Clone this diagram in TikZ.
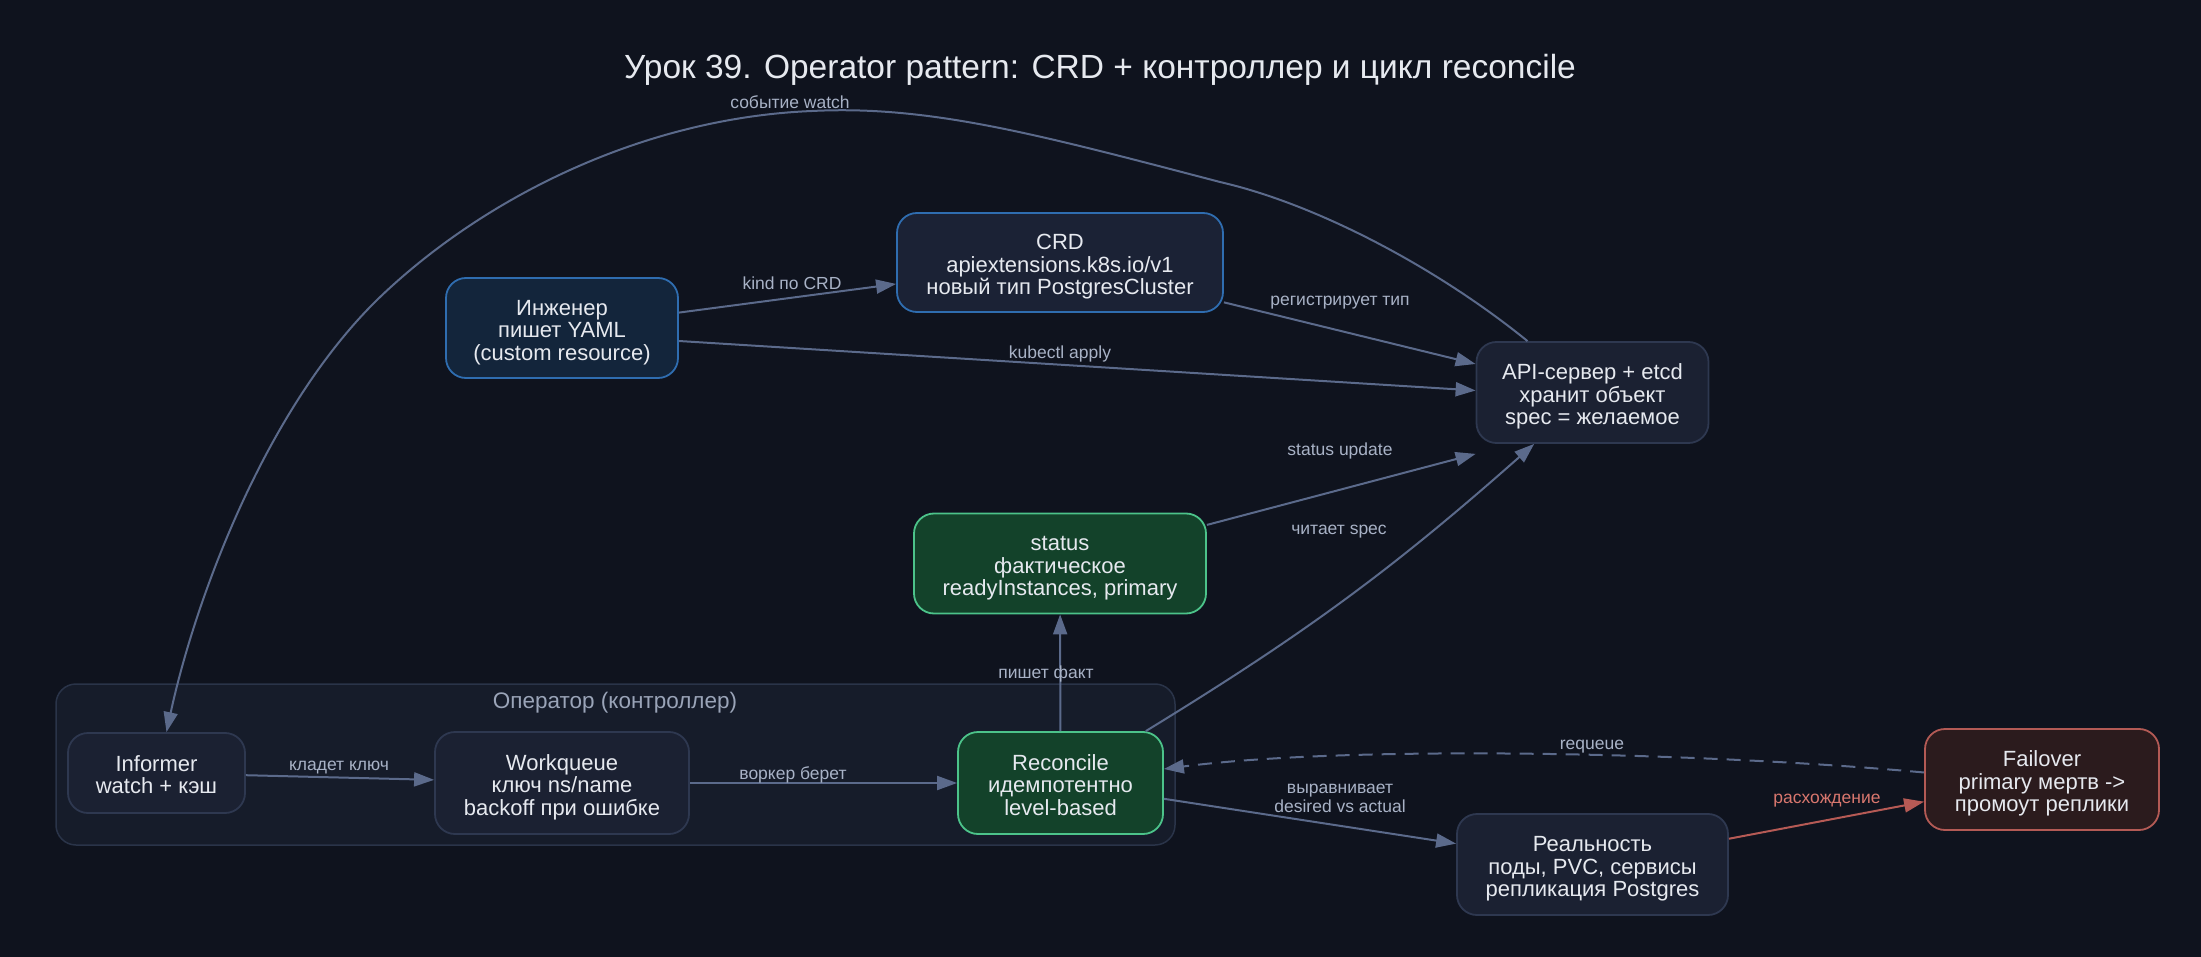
\documentclass[tikz,border=0pt]{standalone}
\usepackage{fontspec}
\setmainfont{Liberation Sans}
\usetikzlibrary{arrows.meta}
\definecolor{bg}{HTML}{0F131E}
\definecolor{clfill}{HTML}{161C2A}
\definecolor{cldraw}{HTML}{2A3449}
\definecolor{nfill}{HTML}{1B2132}
\definecolor{ndraw}{HTML}{2E3850}
\definecolor{bfill}{HTML}{13253B}
\definecolor{cfill}{HTML}{1B2235}
\definecolor{bdraw}{HTML}{2F6DB0}
\definecolor{gfill}{HTML}{13422A}
\definecolor{gdraw}{HTML}{4CC38A}
\definecolor{rfill}{HTML}{2B1B1D}
\definecolor{rdraw}{HTML}{B35A55}
\definecolor{txt}{HTML}{E6E9EF}
\definecolor{edgec}{HTML}{5B6A8B}
\definecolor{lblc}{HTML}{A8B2C6}
\definecolor{cllbl}{HTML}{9AA4B8}
\definecolor{redge}{HTML}{B65A55}
\definecolor{rlbl}{HTML}{D9776E}
\newcommand\myNodeFont{\fontsize{22}{22.5}\selectfont}
\newcommand\myLblFont{\fontsize{17.5}{19}\selectfont}
\newcommand\myTitleFont{\fontsize{33.5}{35}\selectfont}
\begin{document}
\begin{tikzpicture}[x=1pt,y=-1pt,
  box/.style={rounded corners=20pt, draw=ndraw, fill=nfill, line width=1.8pt, align=center, text=txt, font=\myNodeFont, inner sep=0pt, text height=70.4pt, text depth=6pt},
  twolines/.style={text height=47.9pt, text depth=6pt},
  bluebox/.style={box, draw=bdraw, fill=bfill},
  crdbox/.style={box, draw=bdraw, fill=cfill},
  greenbox/.style={box, draw=gdraw, fill=gfill},
  redbox/.style={box, draw=rdraw, fill=rfill},
  conn/.style={draw=edgec, line width=2pt, -{Triangle[length=20pt,width=14pt]}},
  redconn/.style={conn, draw=redge, -{Triangle[length=20pt,width=14pt,fill=redge]}},
  lbl/.style={font=\myLblFont, text=lblc, inner sep=0pt},
  rlblstyle/.style={lbl, text=rlbl},
]
\useasboundingbox[fill=bg] (0,0) rectangle (2201,957);
\node[font=\myTitleFont, text=txt] (title) at (1100,70) {Урок 39. Operator pattern: CRD + контроллер и цикл reconcile};

% cluster
\draw[fill=clfill, draw=cldraw, line width=1.5pt, rounded corners=20pt] (56,684) rectangle (1175,845);
\node[font=\fontsize{22.5}{24}\selectfont, text=cllbl] (cltitle) at (615,703) {Оператор (контроллер)};

% nodes
\node[bluebox, minimum width=232pt, minimum height=100pt] (eng) at (562,328) {Инженер\\пишет YAML\\(custom resource)};
\node[crdbox, minimum width=326pt, minimum height=99pt] (crd) at (1060,262.5) {CRD\\apiextensions.k8s.io/v1\\новый тип PostgresCluster};
\node[box, minimum width=232pt, minimum height=101pt] (api) at (1592.5,392.5) {API-сервер + etcd\\хранит объект\\spec = желаемое};
\node[greenbox, minimum width=292pt, minimum height=100pt] (status) at (1060,563.5) {status\\фактическое\\readyInstances, primary};
\node[box, twolines, minimum width=177pt, minimum height=80pt] (inf) at (156.5,773) {Informer\\watch + кэш};
\node[box, minimum width=254pt, minimum height=102pt] (wq) at (562,783) {Workqueue\\ключ ns/name\\backoff при ошибке};
\node[greenbox, minimum width=205pt, minimum height=102pt] (rec) at (1060.5,783) {Reconcile\\идемпотентно\\level-based};
\node[box, minimum width=271pt, minimum height=101pt] (real) at (1592.5,864.5) {Реальность\\поды, PVC, сервисы\\репликация Postgres};
\node[redbox, minimum width=234pt, minimum height=101pt] (fail) at (2042,779.5) {Failover\\primary мертв ->\\промоут реплики};

% connectors
\draw[conn] (eng) -- (crd);
\draw[conn] ([yshift=-13pt]eng.east) -- ([yshift=2pt]api.west);
\draw[conn] (crd) -- (api);
\draw[conn] (status) -- ([yshift=-10pt]api.south west);
\draw[conn] (rec) to[bend right=5] (api);
\draw[conn] ([xshift=-65pt]api.north) .. controls (1440,270) and (1320,205) .. (1220,182)
   .. controls (1040,135) and (930,105) .. (812,111)
   .. controls (640,118) and (480,200) .. (377,300)
   .. controls (265,410) and (195,600) .. ([xshift=10pt]inf.north);
\draw[conn] (inf) -- (wq);
\draw[conn] (wq) -- (rec);
\draw[conn] (rec) -- (status);
\draw[conn] (rec) -- (real);
\draw[redconn] (real) -- (fail);
\draw[conn, dashed, dash pattern=on 14pt off 9pt] ([yshift=7pt]fail.west) .. controls (1700,752) and (1350,745) .. ([yshift=14pt]rec.east);

% labels
\node[lbl] (l1) at (792,283) {kind по CRD};
\node[lbl] (l2) at (1060,354) {kubectl apply};
\node[lbl] (l3) at (1340,303) {регистрирует тип};
\node[lbl] (l4) at (1340,451) {status update};
\node[lbl] (l5) at (1339,532) {читает spec};
\node[lbl] (l6) at (790,102) {событие watch};
\node[lbl] (l7) at (339,768) {кладет ключ};
\node[lbl] (l8) at (793,775) {воркер берет};
\node[lbl] (l9) at (1046,674) {пишет факт};
\node[lbl, align=center] (l10) at (1340,798) {выравнивает\\desired vs actual};
\node[rlblstyle] (l11) at (1827,801) {расхождение};
\node[lbl] (l12) at (1592,747) {requeue};
\end{tikzpicture}
\end{document}
